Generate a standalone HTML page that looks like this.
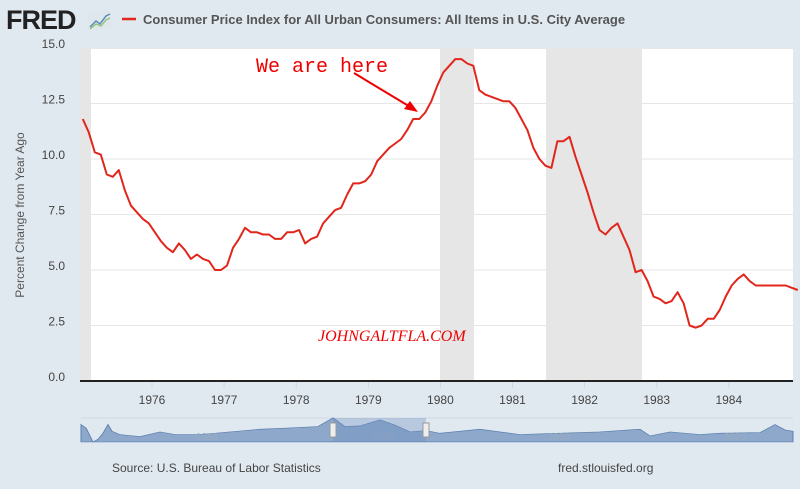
<!DOCTYPE html><html><head><style>
body{margin:0;width:800px;height:489px;background:#e1e9f0;font-family:"Liberation Sans",sans-serif;overflow:hidden;position:relative}
</style></head><body>
<svg width="800" height="489" style="position:absolute;left:0;top:0">
<text x="6" y="29" font-size="27" font-weight="bold" fill="#222" letter-spacing="-1">FRED</text>
<rect x="88" y="11" width="23" height="18" fill="#dfe6ec"/>
<polyline points="90,27 96,21 100,24 106,16 110,14" fill="none" stroke="#5b8fb9" stroke-width="1.5"/>
<polyline points="90,29 96,24 101,26 106,20 110,18" fill="none" stroke="#8cbf6a" stroke-width="1.2"/>
<line x1="122" y1="19" x2="136" y2="19" stroke="#e1261c" stroke-width="2.5"/>
<text x="143" y="24" font-size="13" font-weight="bold" fill="#555">Consumer Price Index for All Urban Consumers: All Items in U.S. City Average</text>
<rect x="80" y="49" width="713" height="332" fill="#fff"/>
<rect x="80" y="49" width="11" height="332" fill="#e6e6e6"/>
<rect x="440" y="49" width="34" height="332" fill="#e6e6e6"/>
<rect x="546" y="49" width="96" height="332" fill="#e6e6e6"/>
<g stroke="#e6e6e6" stroke-width="1" id="grid"></g>
<line x1="80" y1="381" x2="793" y2="381" stroke="#222" stroke-width="2"/>
<g font-size="12" fill="#444" text-anchor="end" id="ylab"></g>
<g font-size="12" fill="#444" text-anchor="middle" id="xlab"></g>
<text transform="translate(24,215) rotate(-90)" font-size="12" fill="#555" text-anchor="middle">Percent Change from Year Ago</text>
<polyline id="line" fill="none" stroke="#e1261c" stroke-width="2" stroke-linejoin="round"/>
<text x="256" y="72" font-family="Liberation Mono,monospace" font-size="20" fill="#ee0000">We are here</text>
<line x1="354" y1="73" x2="412" y2="108" stroke="#ee0000" stroke-width="2"/>
<polygon points="418,112 404,109 410,101" fill="#ee0000"/>
<text x="318" y="341" font-family="Liberation Serif,serif" font-style="italic" font-size="16" fill="#ee0000">JOHNGALTFLA.COM</text>
<line x1="81" y1="418" x2="793" y2="418" stroke="#cfd8e2"/>
<g transform="translate(0,119.7) scale(1,0.67)">
<path d="M81,455 L86,460 L93,481 L98,477 L103,468 L108,455 L112,465 L120,470 L140,473 L160,466 L175,470 L200,470 L230,466 L260,462 L290,460 L318,458 L333,445 L345,458 L360,457 L380,448 L395,456 L410,466 L426,464 L440,468 L480,462 L520,470 L560,468 L600,466 L640,462 L650,472 L670,466 L700,470 L720,468 L760,467 L775,455 L785,463 L793,465 L793,481 L81,481Z" fill="#8ea8cb" stroke="#5b7fae" stroke-width="1"/>
</g>
<g font-size="10" fill="#9aabbf" text-anchor="middle"><text x="207" y="440">1960</text><text x="383" y="440">1980</text><text x="559" y="440">2000</text><text x="735" y="440">2020</text></g>
<rect x="333" y="418" width="93" height="24" fill="#6a8cc0" opacity="0.35"/>
<rect x="330" y="423" width="6" height="14" fill="#eee" stroke="#999"/>
<rect x="423" y="423" width="6" height="14" fill="#eee" stroke="#999"/>
<text x="112" y="472" font-size="12" fill="#444">Source: U.S. Bureau of Labor Statistics</text>
<text x="558" y="472" font-size="12" fill="#444">fred.stlouisfed.org</text>
</svg>
<script>
var d=[11.8,11.2,10.3,10.2,9.3,9.2,9.5,8.6,7.9,7.6,7.3,7.1,6.7,6.3,6.0,5.8,6.2,5.9,5.5,5.7,5.5,5.4,5.0,5.0,5.2,6.0,6.4,6.9,6.7,6.7,6.6,6.6,6.4,6.4,6.7,6.7,6.8,6.2,6.4,6.5,7.1,7.4,7.7,7.8,8.4,8.9,8.9,9.0,9.3,9.9,10.2,10.5,10.7,10.9,11.3,11.8,11.8,12.1,12.6,13.3,13.9,14.2,14.5,14.5,14.3,14.2,13.1,12.9,12.8,12.7,12.6,12.6,12.3,11.8,11.3,10.5,10.0,9.7,9.6,10.8,10.8,11.0,10.1,9.3,8.5,7.6,6.8,6.6,6.9,7.1,6.5,5.9,4.9,5.0,4.5,3.8,3.7,3.5,3.6,4.0,3.5,2.5,2.4,2.5,2.8,2.8,3.2,3.8,4.3,4.6,4.8,4.5,4.3,4.3,4.3,4.3,4.3,4.3,4.2,4.1];
function X(t){return 152+(t-1976)*72.1}function Y(v){return 381-v*22.2}
var p=[];for(var i=0;i<d.length;i++){p.push(Math.max(80,X(1975+i/12+0.04)).toFixed(1)+","+Y(d[i]).toFixed(1))}
document.getElementById('line').setAttribute('points',p.join(' '));
var g='',yl='',xl='';
for(var k=1;k<=6;k++){var y=Y(k*2.5);g+='<line x1="80" x2="793" y1="'+y+'" y2="'+y+'"/>';}
for(var k=0;k<=6;k++){yl+='<text x="65" y="'+(Y(k*2.5)+0)+'">'+(k*2.5).toFixed(1)+'</text>';}
for(var yr=1976;yr<=1984;yr++){xl+='<text x="'+X(yr)+'" y="404">'+yr+'</text><line x1="'+X(yr)+'" x2="'+X(yr)+'" y1="382" y2="388" stroke="#ccd6eb"/>';}
document.getElementById('grid').innerHTML=g;document.getElementById('ylab').innerHTML=yl;document.getElementById('xlab').innerHTML=xl;
</script>
</body></html>
